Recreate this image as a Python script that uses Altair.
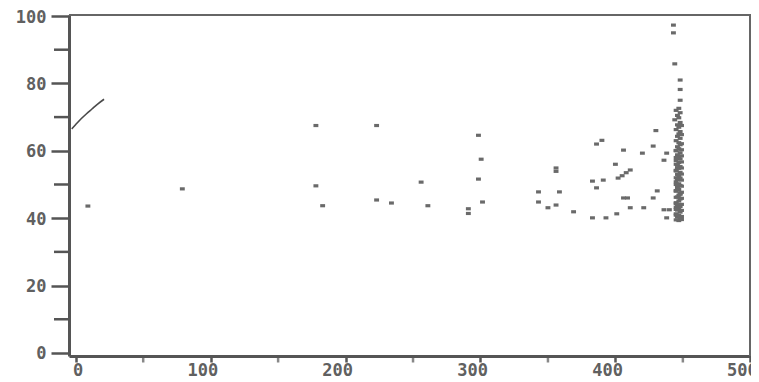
import altair as alt
import pandas as pd

# curve at upper left
curve_x = [-3, 0, 4, 8, 12, 16, 21]
curve_y = [66.5, 67.8, 69.5, 71.0, 72.4, 73.8, 75.3]

# scattered points
pts_x = [9, 79, 178, 223, 178, 183, 223, 234, 256, 261, 291, 291, 298.5, 300.5, 298.5, 301.5,
         343, 343, 350, 356, 356, 356, 358.5, 369, 383, 383, 386, 386, 390, 391, 393, 400, 401,
         402, 405, 408, 411, 406, 409, 406, 411, 420, 421, 428, 428, 430, 431, 436, 436, 438, 438, 440,
         443, 443, 444, 448, 448, 448]
pts_y = [43.6, 48.7, 67.5, 67.5, 49.6, 43.7, 45.4, 44.5, 50.7, 43.7, 42.8, 41.4, 64.6, 57.5, 51.6, 44.8,
         47.8, 44.8, 43.1, 54.9, 53.9, 43.9, 47.8, 41.9, 40.1, 51.0, 62.0, 49.0, 63.1, 51.3, 40.1, 56.0, 41.3,
         51.9, 52.6, 53.5, 54.3, 60.2, 46.0, 46.0, 43.1, 59.3, 43.1, 61.4, 46.0, 66.0, 48.1, 57.2, 42.5, 59.3, 40.1, 42.5,
         97.3, 95.0, 85.8, 81.0, 78.2, 75.0]

# dense column of points near x = 447
col_x = [447, 445, 448, 446, 447, 444, 448, 446, 447, 445, 448, 447, 446, 448, 445, 447,
         448, 446, 447, 445, 448, 446, 447, 448, 445, 447, 446, 448, 447, 445, 448, 446,
         447, 448, 446, 445, 447, 448, 446, 447, 445, 448, 447, 446, 448, 447, 445, 446,
         448, 447, 446, 448, 445, 447, 446, 448, 447, 445, 448, 446,
         449, 449, 449, 449, 449, 449, 449, 449, 449, 449, 449, 449, 449, 449, 449, 449,
         445, 445, 445, 445, 445, 445, 445, 445, 445, 445, 445, 445]
col_y = [72.6, 72.0, 71.3, 70.5, 69.8, 69.2, 68.4, 67.7, 67.0, 66.3, 65.7, 65.0, 64.3, 63.7, 63.0, 62.4,
         61.8, 61.2, 60.6, 60.0, 59.4, 58.8, 58.2, 57.6, 57.1, 56.5, 55.9, 55.3, 54.8, 54.2, 53.6, 53.0,
         52.5, 51.9, 51.4, 50.8, 50.2, 49.7, 49.1, 48.5, 48.0, 47.4, 46.8, 46.3, 45.7, 45.1, 44.6, 44.0,
         43.5, 42.9, 42.4, 41.8, 41.3, 40.8, 40.3, 39.8, 39.3, 43.2, 47.1, 55.0,
         60.3, 58.5, 56.7, 54.9, 53.1, 51.3, 49.5, 47.7, 45.9, 44.1, 42.3, 40.5, 39.6, 62.1, 64.8, 67.5,
         58.0, 56.0, 54.0, 52.0, 50.0, 48.2, 46.2, 44.3, 42.6, 40.9, 60.1, 39.5]

x_ticks = [0, 100, 200, 300, 400, 500]
x_minor = [50, 150, 250, 350, 450]
y_ticks = [0, 20, 40, 60, 80, 100]
y_minor = [10, 30, 50, 70, 90]

curve_df = pd.DataFrame({"x": curve_x, "y": curve_y})
pts_df = pd.DataFrame({"x": pts_x + col_x, "y": pts_y + col_y})

W, H = 682, 341

xs = alt.Scale(domain=[-5, 500.5], nice=False, zero=False)
ys = alt.Scale(domain=[-0.9, 100.3], nice=False, zero=False)

label_style = dict(labelFont="DejaVu Sans Mono", labelFontWeight="bold", labelFontSize=17,
                   labelColor="#606060", domainColor="#555555", tickColor="#555555", grid=False)

x_axis = alt.Axis(values=x_ticks, title=None, domainWidth=3, tickWidth=2.5, tickSize=6,
                  labelPadding=0, labelAlign="right", labelOffset=7, labelBound=False,
                  format="d", **label_style)
y_axis = alt.Axis(values=y_ticks, title=None, domainWidth=3, tickWidth=2.5, tickSize=18,
                  labelPadding=5, labelOffset=1, format="d", **label_style)

pts = alt.Chart(pts_df).mark_point(
    shape="M-1,-0.65L1,-0.65L1,0.65L-1,0.65Z", filled=True, size=24, color="#6a6a6a", opacity=1
).encode(x=alt.X("x:Q", scale=xs, axis=x_axis), y=alt.Y("y:Q", scale=ys, axis=y_axis))

line = alt.Chart(curve_df).mark_line(color="#4a4a4a", strokeWidth=1.6, interpolate="monotone").encode(
    x=alt.X("x:Q", scale=xs), y=alt.Y("y:Q", scale=ys))

minor_x = alt.Chart(pd.DataFrame({"x": x_minor})).mark_tick(
    color="#555555", thickness=2.5, size=5, orient="vertical"
).encode(x=alt.X("x:Q", scale=xs), y=alt.value(H + 4))

minor_y = alt.Chart(pd.DataFrame({"y": y_minor})).mark_rule(
    color="#555555", strokeWidth=2.5
).encode(y=alt.Y("y:Q", scale=ys), x=alt.value(-15), x2=alt.value(0))

top_border = alt.Chart(pd.DataFrame({"a": [0]})).mark_rule(color="#666666", strokeWidth=2).encode(
    x=alt.value(0), x2=alt.value(W), y=alt.value(0))
right_border = alt.Chart(pd.DataFrame({"a": [0]})).mark_rule(color="#666666", strokeWidth=2).encode(
    x=alt.value(W - 1), y=alt.value(0), y2=alt.value(H))

chart = alt.layer(top_border, right_border, line, pts, minor_x, minor_y).properties(
    width=W, height=H,
    autosize=alt.AutoSizeParams(type="none"),
    padding={"left": 61, "top": 7, "right": 0, "bottom": 24},
).configure_view(strokeWidth=0).configure(background="white")

chart.save("out.html", embed_options={"renderer": "svg", "actions": False})
